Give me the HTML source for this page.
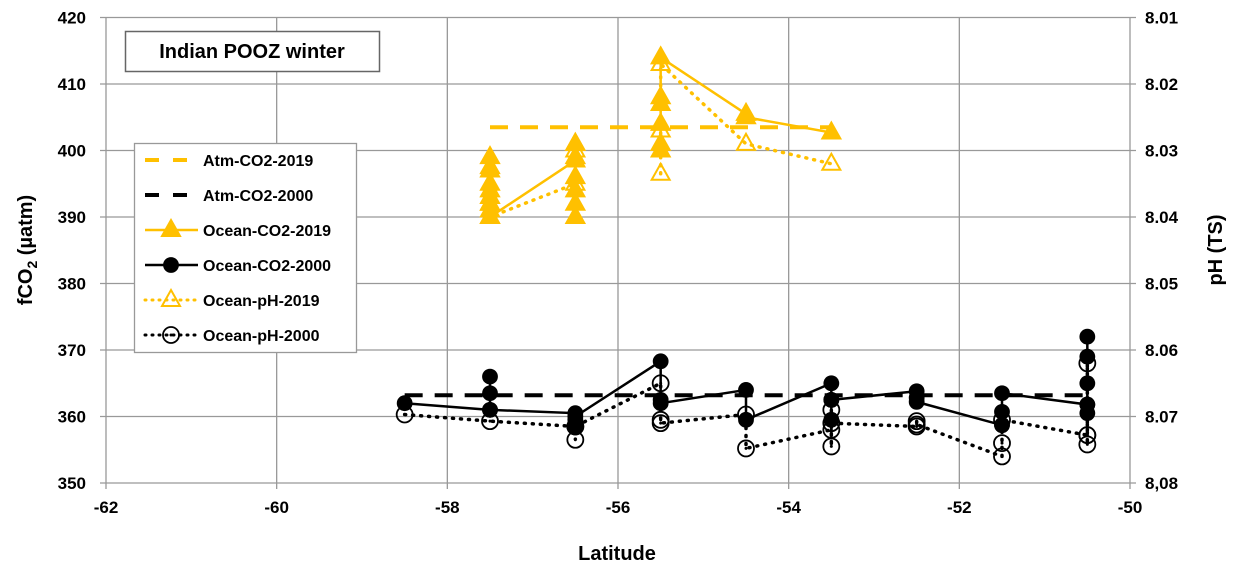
<!DOCTYPE html>
<html><head><meta charset="utf-8"><style>
body{margin:0;background:#fff;}
svg{display:block;font-family:"Liberation Sans",sans-serif;}
</style></head><body>
<svg id="chart" width="1237" height="575"></svg>
<script>
const xTicks=[-62,-60,-58,-56,-54,-52,-50];
const yTicks=[350,360,370,380,390,400,410,420];
const pHTicks=["8.01","8.02","8.03","8.04","8.05","8.06","8.07","8,08"];
const atm2019Lat=[-57.5,-53.5];
const atm2019Val=[403.5,403.5];
const atm2000Lat=[-58.5,-50.5];
const atm2000Val=[363.2,363.2];
const oc19Lat=[-57.5,-57.5,-57.5,-57.5,-57.5,-57.5,-57.5,-57.5,-56.5,-56.5,-56.5,-56.5,-56.5,-56.5,-56.5,null,-55.5,-55.5,-55.5,-55.5,-55.5,-55.5,-54.5,-54.5,-53.5];
const oc19Val=[399,397,395,394,393,392,391,390,398.5,401,399,396,394,392,390,null,400,401,404,407,408,414,405.5,405,402.7];
const oc00Lat=[-58.5,-57.5,-57.5,-57.5,-57.5,-56.5,-56.5,-56.5,-56.5,-55.5,-55.5,-55.5,-54.5,-54.5,-53.5,-53.5,-53.5,-53.5,-52.5,-52.5,-52.5,-51.5,-51.5,-51.5,-51.5,-50.5,-50.5,-50.5,-50.5,-50.5,-50.5];
const oc00Val=[362,361,363.5,366,361,360.5,359.5,358.5,360,368.3,362.5,362,364,359.5,365,362.5,359.5,362.5,363.8,362.8,362.2,358.7,360.7,358.7,363.5,361.8,372,369,365,360.5,361.8];
const ph19Lat=[-57.5,-57.5,-57.5,-56.5,-56.5,-56.5,null,-55.5,-55.5,-55.5,-54.5,-53.5];
const ph19Val=[8.0325,8.0380,8.0400,8.0350,8.0300,8.0290,null,8.0335,8.0270,8.0170,8.0290,8.0320];
const ph00Lat=[-58.5,-57.5,-56.5,-56.5,-56.5,-55.5,-55.5,-55.5,-54.5,-54.5,-53.5,-53.5,-53.5,-53.5,-52.5,-52.5,-52.5,-51.5,-51.5,-51.5,-50.5,-50.5,-50.5,-50.5];
const ph00Val=[8.0697,8.0707,8.0715,8.0735,8.0715,8.0650,8.0705,8.0710,8.0697,8.0748,8.0720,8.0745,8.0690,8.0710,8.0715,8.0707,8.0712,8.0760,8.0740,8.0705,8.0728,8.0620,8.0742,8.0728];

const NS="http://www.w3.org/2000/svg";
const svg=document.getElementById('chart');
const L=106,R=1130,T=17.5,B=483;
const xs=v=>L+(v+62)/12*(R-L);
const ys=v=>B-(v-350)/70*(B-T);
const yp=p=>T+(p-8.01)/0.07*(B-T);
function mk(tag,at,parent){const e=document.createElementNS(NS,tag);for(const k in at)e.setAttribute(k,at[k]);(parent||svg).appendChild(e);return e;}
xTicks.forEach(t=>{const l=mk('line',{x1:xs(t),x2:xs(t),y1:T,y2:B+6,stroke:'#999','stroke-width':1.3});


const tx=mk('text',{x:xs(t),y:513,'text-anchor':'middle','font-size':17,'font-weight':'bold'});tx.textContent=t;

});
yTicks.forEach((t,i)=>{const l=mk('line',{x1:L-6,x2:R+6,y1:ys(t),y2:ys(t),stroke:'#999','stroke-width':1.3});


const tx=mk('text',{x:86,y:ys(t)+6,'text-anchor':'end','font-size':17,'font-weight':'bold'});tx.textContent=t;


const tp=mk('text',{x:1145,y:ys(t)+6,'font-size':17,'font-weight':'bold'});tp.textContent=pHTicks[yTicks.length-1-i];

});
function path(lats,vals,f,st,name){let d='',pen=false;lats.forEach((la,i)=>{if(la===null){pen=false;return;}d+=(pen?'L':'M')+xs(la)+' '+f(vals[i]);pen=true;});
const p=mk('path',Object.assign({d:d,fill:'none'},st));

}
function tri(x,y,fill,col,parent){return mk('path',{d:`M${x} ${y-10}L${x+9} ${y+6}L${x-9} ${y+6}Z`,fill:fill?col:'#fff','fill-opacity':fill?1:0,stroke:col,'stroke-width':2},parent);}
function circ(x,y,fill,parent){const g=mk('g',{},parent);mk('circle',{cx:x,cy:y,r:fill?7:8,fill:fill?'#000':'none',stroke:'#000','stroke-width':1.8},g);if(!fill)mk('circle',{cx:x,cy:y,r:1.5,fill:'#000'},g);return g;}
const Y='#FFC000';
path(atm2019Lat,atm2019Val,ys,{stroke:Y,'stroke-width':4,'stroke-dasharray':'18 12'},'atm-co2-2019-line');
path(atm2000Lat,atm2000Val,ys,{stroke:'#000','stroke-width':4,'stroke-dasharray':'18 12'},'atm-co2-2000-line');
path(ph19Lat,ph19Val,yp,{stroke:Y,'stroke-width':3.5,'stroke-dasharray':'1 7','stroke-linecap':'round'},'ocean-ph-2019-line');
path(ph00Lat,ph00Val,yp,{stroke:'#000','stroke-width':3.5,'stroke-dasharray':'1 7','stroke-linecap':'round'},'ocean-ph-2000-line');
path(oc19Lat,oc19Val,ys,{stroke:Y,'stroke-width':2.5},'ocean-co2-2019-line');
path(oc00Lat,oc00Val,ys,{stroke:'#000','stroke-width':2.5},'ocean-co2-2000-line');
ph19Lat.forEach((la,i)=>{if(la===null)return;const m=tri(xs(la),yp(ph19Val[i]),false,Y);

});
oc19Lat.forEach((la,i)=>{if(la===null)return;const m=tri(xs(la),ys(oc19Val[i]),true,Y);

});
ph00Lat.forEach((la,i)=>{const m=circ(xs(la),yp(ph00Val[i]),false);

});
oc00Lat.forEach((la,i)=>{const m=circ(xs(la),ys(oc00Val[i]),true);

});
const tg=mk('g',{});
mk('rect',{x:125.5,y:31.5,width:254,height:40,fill:'#fff',stroke:'#666','stroke-width':1.5},tg);
const tt=mk('text',{x:252,y:58,'text-anchor':'middle','font-size':20,'font-weight':'bold'},tg);tt.textContent='Indian POOZ winter';
const lg=mk('g',{});
mk('rect',{x:134.5,y:143.5,width:222,height:209,fill:'#fff',stroke:'#999','stroke-width':1.3},lg);
const labels=['Atm-CO2-2019','Atm-CO2-2000','Ocean-CO2-2019','Ocean-CO2-2000','Ocean-pH-2019','Ocean-pH-2000'];
labels.forEach((lab,i)=>{const y=160+i*35;const e=mk('g',{},lg);


const col=(i%2===0)?Y:'#000';
if(i<2)mk('line',{x1:145,x2:188,y1:y,y2:y,stroke:col,'stroke-width':4,'stroke-dasharray':'14 14'},e);
else if(i<4){mk('line',{x1:145,x2:198,y1:y,y2:y,stroke:col,'stroke-width':2.5},e);if(i===2)tri(171,y,true,Y,e);else circ(171,y,true,e);}
else{mk('line',{x1:145,x2:198,y1:y,y2:y,stroke:col,'stroke-width':3,'stroke-dasharray':'1 6','stroke-linecap':'round'},e);if(i===4)tri(171,y,false,Y,e);else circ(171,y,false,e);}
const t=mk('text',{x:203,y:y+6,'font-size':16,'font-weight':'bold'},e);t.textContent=lab;});
const xt=mk('text',{x:617,y:560,'text-anchor':'middle','font-size':20,'font-weight':'bold'});xt.textContent='Latitude';


const yt=mk('text',{transform:'translate(32,250) rotate(-90)','text-anchor':'middle','font-size':20,'font-weight':'bold'});
yt.innerHTML='fCO<tspan font-size="14" dy="5">2</tspan><tspan dy="-5"> (µatm)</tspan>';


const pt=mk('text',{transform:'translate(1222,250) rotate(-90)','text-anchor':'middle','font-size':20,'font-weight':'bold'});pt.textContent='pH (TS)';


</script>
</body></html>
